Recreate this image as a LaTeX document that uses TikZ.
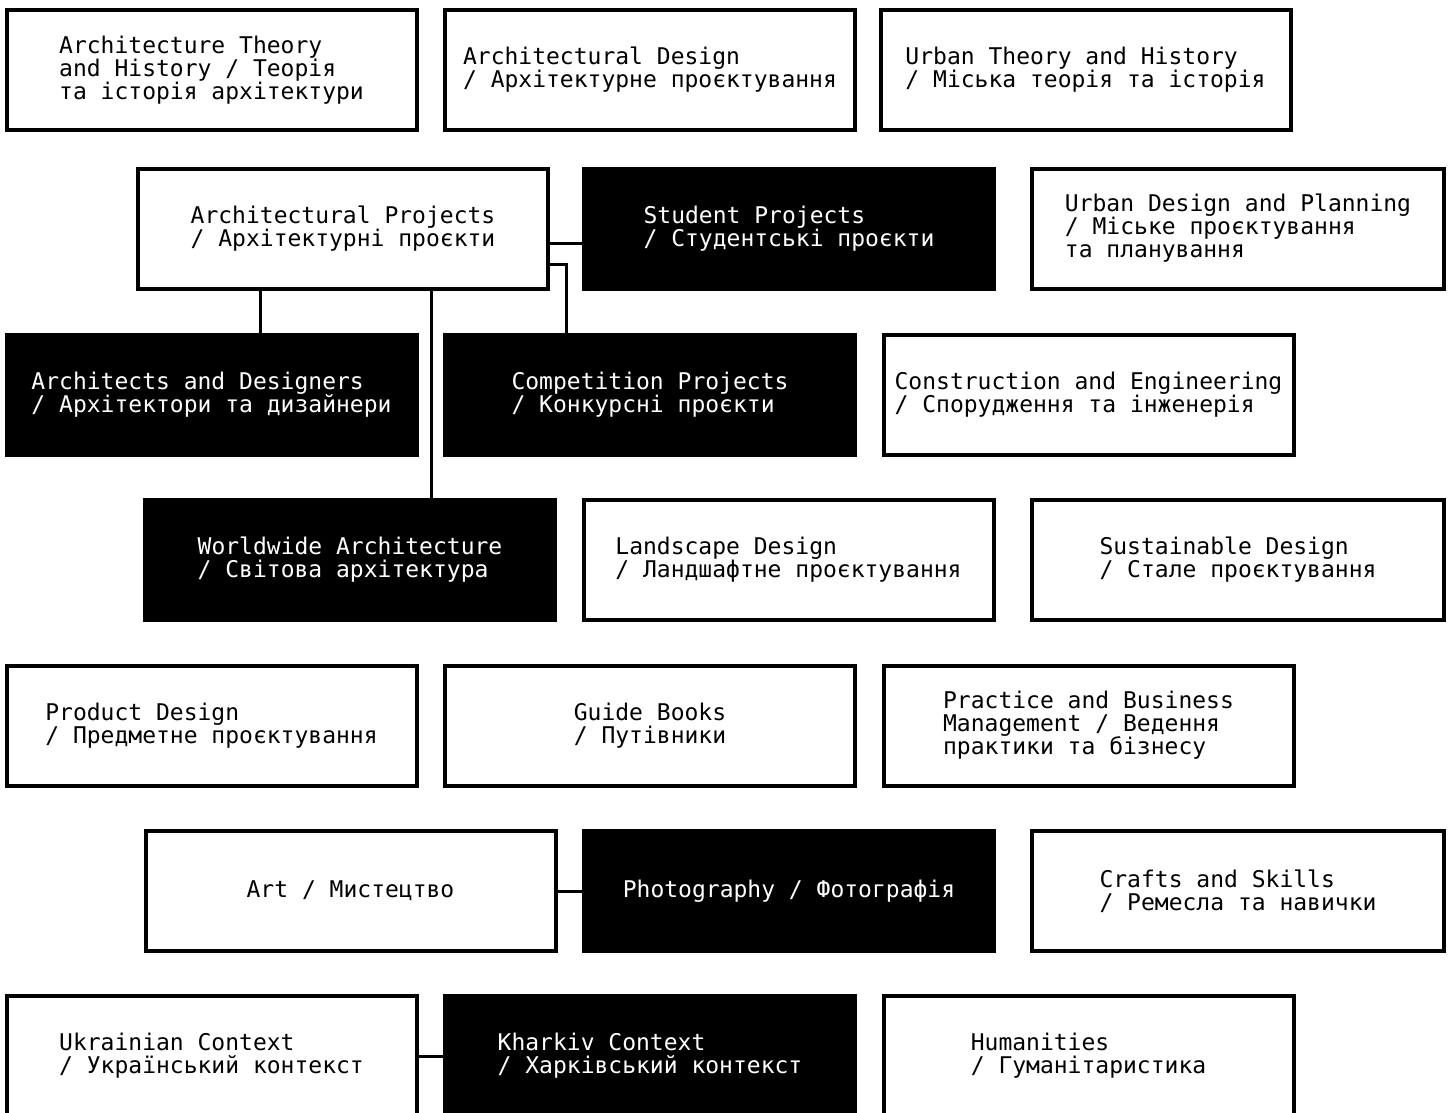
\documentclass[tikz,border=0pt]{standalone}
\usepackage{fontspec}
\setmonofont{DejaVu Sans Mono}
\begin{document}
\begin{tikzpicture}[x=1pt,y=-1pt,
  cat/.style={draw=black,line width=4pt,minimum width=410pt,minimum height=120pt,
    align=left,inner sep=0pt,font=\ttfamily\fontsize{23}{23}\selectfont,fill=white,text=black},
  catw/.style={cat,minimum width=412pt},
  dark/.style={fill=black,text=white},
  link/.style={line width=3pt,draw=black}]
\useasboundingbox (0,0) rectangle (1453,1113);
\clip (0,0) rectangle (1453,1113);
% row 1
\node[cat] (ath) at (211.5,70) {Architecture Theory\\and History / Теорія\\та історія архітектури};
\node[cat] (ades) at (650,70) {Architectural Design\\/ Архітектурне проєктування};
\node[cat] (uth) at (1085.5,70) {Urban Theory and History\\/ Міська теорія та історія};
% row 2
\node[cat] (ap) at (343,228.5) {Architectural Projects\\/ Архітектурні проєкти};
\node[cat,dark] (st) at (789,228.5) {Student Projects\\/ Студентські проєкти};
\node[catw] (udp) at (1238,228.5) {Urban Design and Planning\\/ Міське проєктування\\та планування};
% row 3
\node[cat,dark] (ad) at (211.5,394.5) {Architects and Designers\\/ Архітектори та дизайнери};
\node[cat,dark] (cp) at (650,394.5) {Competition Projects\\/ Конкурсні проєкти};
\node[cat] (ce) at (1088.5,394.5) {Construction and Engineering\\/ Спорудження та інженерія};
% row 4
\node[cat,dark] (ww) at (350,559.5) {Worldwide Architecture\\/ Світова архітектура};
\node[cat] (ld) at (788.5,559.5) {Landscape Design\\/ Ландшафтне проєктування};
\node[catw] (sd) at (1238,559.5) {Sustainable Design\\/ Стале проєктування};
% row 5
\node[cat] (pd) at (211.5,725.5) {Product Design\\/ Предметне проєктування};
\node[cat] (gb) at (650,725.5) {Guide Books\\/ Путівники};
\node[cat] (pbm) at (1088.5,725.5) {Practice and Business\\Management / Ведення\\практики та бізнесу};
% row 6
\node[cat] (art) at (350.5,891) {Art / Мистецтво};
\node[cat,dark] (ph) at (789,891) {Photography / Фотографія};
\node[catw] (cs) at (1238,891) {Crafts and Skills\\/ Ремесла та навички};
% row 7
\node[cat] (uk) at (211.5,1056) {Ukrainian Context\\/ Український контекст};
\node[cat,dark] (kh) at (650,1056) {Kharkiv Context\\/ Харківський контекст};
\node[cat] (hu) at (1088.5,1056) {Humanities\\/ Гуманітаристика};
% connectors
\draw[link] ([yshift=-15pt]ap.east) -- ([yshift=-15pt]ap.east -| st.west);
\draw[link] ([yshift=-36pt]ap.east) -| ([xshift=-84pt]cp.north);
\draw[link] ([xshift=48.5pt]ad.north) -- ([xshift=48.5pt]ad.north |- ap.south);
\draw[link] ([xshift=81pt]ww.north) -- ([xshift=81pt]ww.north |- ap.south);
\draw[link] (art.east) -- (ph.west);
\draw[link] (uk.east) -- (kh.west);
\end{tikzpicture}
\end{document}
